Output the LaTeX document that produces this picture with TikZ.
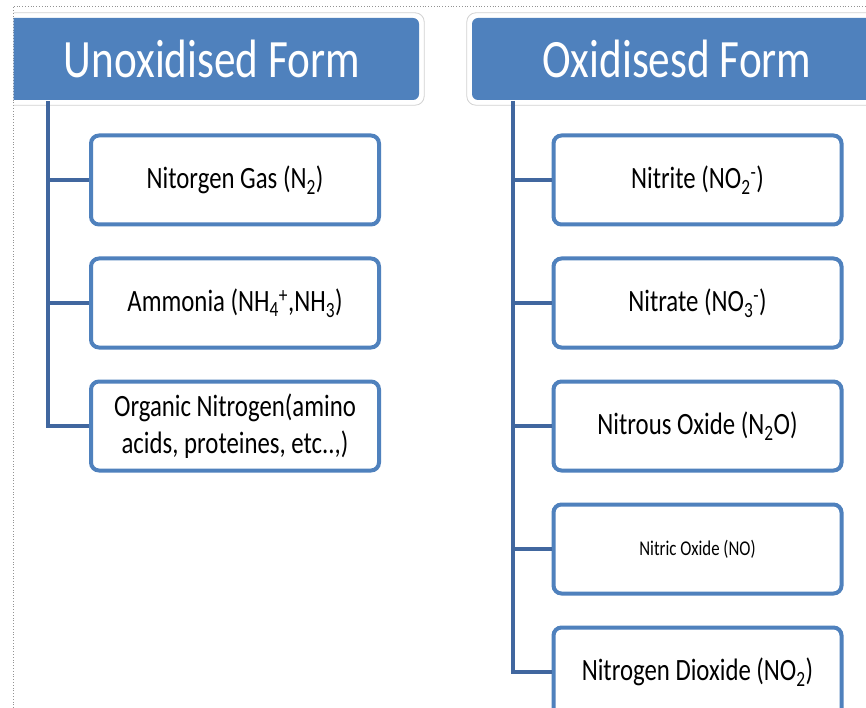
\documentclass[tikz,border=0pt]{standalone}
\usepackage{fontspec}
\setmainfont{Carlito}[FakeStretch=0.8]
\definecolor{hdrblue}{HTML}{4F81BD}
\definecolor{boxblue}{HTML}{4F81BD}
\definecolor{trunkblue}{HTML}{41679F}
\tikzset{
  hdr/.style={fill=hdrblue, text=white, rounded corners=6pt, inner sep=0pt,
    minimum height=82pt, font=\fontsize{54}{60}\selectfont},
  hdrline/.style={draw=gray!35, line width=0.8pt, rounded corners=9pt},
  itembox/.style={draw=boxblue, line width=4pt, fill=white, rounded corners=8pt,
    minimum width=288pt, minimum height=89pt, inner sep=0pt, align=center,
    font=\fontsize{31}{37}\selectfont},
  trunk/.style={draw=trunkblue, line width=4.5pt},
  branch/.style={draw=trunkblue, line width=4pt},
  frame/.style={draw=gray!85, dotted, line width=0.8pt}
}
\begin{document}
\begin{tikzpicture}[x=1pt,y=-1pt]
\useasboundingbox (0,0) rectangle (866,708);
\fill[white] (0,0) rectangle (866,708);
\draw[frame] (13,708) -- (13,6) -- (866,6);
\begin{scope}
\clip (13.5,6.5) rectangle (866,708);
% headers
\node[hdr, minimum width=414pt] (hl) at (212,59) {Unoxidised Form};
\node[hdr, minimum width=410pt] (hr) at (677,59) {Oxidisesd Form};
\draw[hdrline] ([shift={(-5,-5)}]hl.north west) rectangle ([shift={(5,5)}]hl.south east);
\draw[hdrline] ([shift={(-5,-5)}]hr.north west) rectangle ([shift={(5,5)}]hr.south east);
% left items
\node[itembox] (n2) at (235,180) {Nitorgen Gas (N\textsubscript{2})};
\node[itembox] (nh) at (235,303) {Ammonia (NH\textsubscript{4}\textsuperscript{+},NH\textsubscript{3})};
\node[itembox] (org) at (235,426) {Organic Nitrogen(amino\\acids, proteines, etc..,)};
% right items
\node[itembox] (no2m) at (697.5,180) {Nitrite (NO\textsubscript{2}\textsuperscript{-})};
\node[itembox] (no3m) at (697.5,303) {Nitrate (NO\textsubscript{3}\textsuperscript{-})};
\node[itembox] (n2o) at (697.5,426) {Nitrous Oxide (N\textsubscript{2}O)};
\node[itembox, font=\fontsize{21}{25}\selectfont] (no) at (697.5,549) {Nitric Oxide (NO)};
\node[itembox] (no2) at (697.5,672) {Nitrogen Dioxide (NO\textsubscript{2})};
% trunks
\coordinate (lt) at (48,101);
\coordinate (rt) at (513,101);
\draw[trunk] (lt) -- (lt |- org.west) -- (org.west);
\draw[branch] (lt |- n2.west) -- (n2.west);
\draw[branch] (lt |- nh.west) -- (nh.west);
\draw[trunk] (rt) -- (rt |- no2.west) -- (no2.west);
\draw[branch] (rt |- no2m.west) -- (no2m.west);
\draw[branch] (rt |- no3m.west) -- (no3m.west);
\draw[branch] (rt |- n2o.west) -- (n2o.west);
\draw[branch] (rt |- no.west) -- (no.west);
\end{scope}
\end{tikzpicture}
\end{document}
